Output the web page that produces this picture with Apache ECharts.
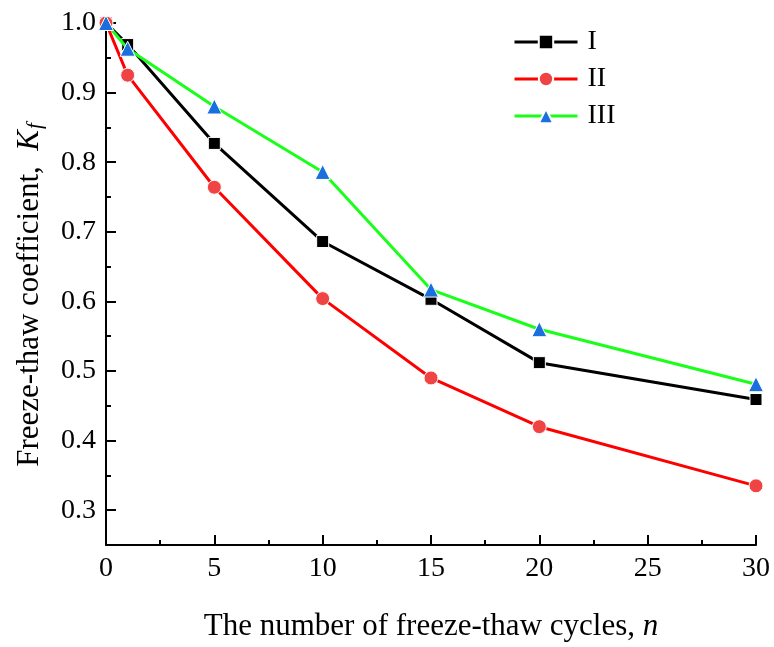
<!DOCTYPE html>
<html>
<head>
<meta charset="utf-8">
<script src="https://cdn.jsdelivr.net/npm/echarts@6/dist/echarts.min.js"></script>
<style>
  html, body { margin: 0; padding: 0; background: #fff; }
  #chart { width: 774px; height: 647px; }
</style>
</head>
<body>
<div id="chart"></div>
<script>
// Freeze-thaw cycles n and the coefficient K_f of three specimen groups
const cycles = [0, 1, 5, 10, 15, 20, 30];
const groupI = [1.0, 0.969, 0.827, 0.686, 0.603, 0.512, 0.459];
const groupII = [1.0, 0.925, 0.764, 0.604, 0.490, 0.420, 0.335];
const groupIII = [1.0, 0.963, 0.880, 0.786, 0.617, 0.560, 0.481];
const seriesNames = ['I', 'II', 'III'];
const yMajorTicks = [0.3, 0.4, 0.5, 0.6, 0.7, 0.8, 0.9, 1.0];
const yMinorTicks = [0.25, 0.35, 0.45, 0.55, 0.65, 0.75, 0.85, 0.95];

const FONT = '"Liberation Serif", "DejaVu Serif", serif';

function pairs(xs, ys) {
  return xs.map((x, i) => [x, ys[i]]);
}

const chart = echarts.init(document.getElementById('chart'), null, { renderer: 'canvas' });

chart.setOption({
  backgroundColor: '#ffffff',
  animation: false,
  grid: { left: 106, right: 18, top: 23, bottom: 99, containLabel: false },
  legend: {
    left: 508,
    top: 23,
    orient: 'vertical',
    itemWidth: 63,
    itemHeight: 18,
    itemGap: 9,
    data: seriesNames,
    lineStyle: { width: 3 },
    textStyle: { fontFamily: FONT, fontSize: 28, color: '#000', padding: [0, 0, 0, 5] }
  },
  xAxis: {
    type: 'value',
    min: 0,
    max: 30,
    interval: 5,
    name: 'The number of freeze-thaw cycles, {it|n}',
    nameLocation: 'middle',
    nameGap: 66,
    nameTextStyle: {
      fontFamily: FONT, fontSize: 31, color: '#000',
      rich: { it: { fontFamily: FONT, fontSize: 31, fontStyle: 'italic', color: '#000' } }
    },
    axisLine: { show: true, lineStyle: { color: '#000', width: 2 } },
    axisTick: { show: true, inside: true, length: 10, lineStyle: { color: '#000', width: 2 } },
    minorTick: { show: true, splitNumber: 2, length: 5, lineStyle: { color: '#000', width: 2 } },
    axisLabel: { fontFamily: FONT, fontSize: 28, color: '#000', margin: 10 },
    splitLine: { show: false }
  },
  yAxis: [
    {
      type: 'value',
      min: 0.25,
      max: 1.0,
      name: 'Freeze-thaw coefficient,  {it|K}{sub|f}',
      nameLocation: 'middle',
      nameRotate: 90,
      nameGap: 60,
      nameTextStyle: {
        fontFamily: FONT, fontSize: 31, color: '#000',
        padding: [0, 22, 0, 0],
        rich: {
          it: { fontFamily: FONT, fontSize: 31, fontStyle: 'italic', color: '#000' },
          sub: { fontFamily: FONT, fontSize: 21, fontStyle: 'italic', color: '#000', padding: [12, 0, 0, 1] }
        }
      },
      axisLine: { show: true, lineStyle: { color: '#000', width: 2 } },
      axisTick: { show: true, inside: true, length: 10, customValues: yMajorTicks, lineStyle: { color: '#000', width: 2 } },
      axisLabel: {
        fontFamily: FONT, fontSize: 28, color: '#000', margin: 10,
        customValues: yMajorTicks,
        formatter: v => v.toFixed(1)
      },
      splitLine: { show: false }
    },
    {
      type: 'value',
      min: 0.25,
      max: 1.0,
      position: 'left',
      offset: 0,
      axisLine: { show: false },
      axisTick: { show: true, inside: true, length: 5, customValues: yMinorTicks, lineStyle: { color: '#000', width: 2 } },
      axisLabel: { show: false },
      splitLine: { show: false }
    }
  ],
  series: [
    {
      type: 'line',
      name: seriesNames[0],
      data: pairs(cycles, groupI),
      symbol: 'rect',
      symbolSize: 12,
      lineStyle: { color: '#000000', width: 3 },
      itemStyle: { color: '#000000', borderColor: '#ffffff', borderWidth: 1 },
      z: 2
    },
    {
      type: 'line',
      name: seriesNames[1],
      data: pairs(cycles, groupII),
      symbol: 'circle',
      symbolSize: 14,
      lineStyle: { color: '#ff0000', width: 3 },
      itemStyle: { color: '#f04444', borderColor: '#ffffff', borderWidth: 1 },
      z: 3
    },
    {
      type: 'line',
      name: seriesNames[2],
      data: pairs(cycles, groupIII),
      symbol: 'triangle',
      symbolSize: 15,
      lineStyle: { color: '#1aff1a', width: 3 },
      itemStyle: { color: '#1a6fdf', borderColor: '#ffffff', borderWidth: 1 },
      z: 4
    }
  ]
});
</script>
</body>
</html>
